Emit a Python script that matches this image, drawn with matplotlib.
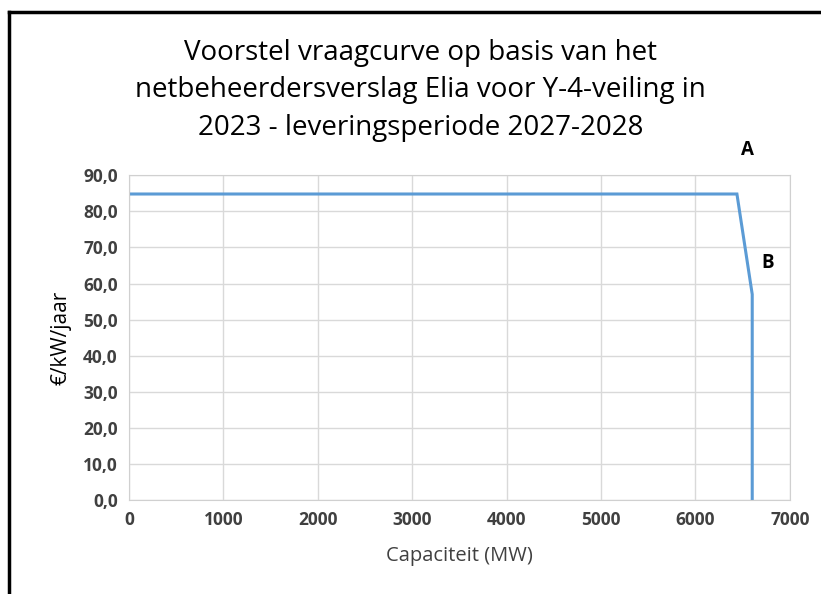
import matplotlib.pyplot as plt
from matplotlib.lines import Line2D
from matplotlib.ticker import FuncFormatter

plt.rcParams["font.family"] = ["Open Sans", "DejaVu Sans"]

# demand curve points (MW, EUR/kW/jaar)
capacity = [0, 6440, 6602, 6602]
price = [84.8, 84.8, 57.0, 0.0]

x_ticks = [0, 1000, 2000, 3000, 4000, 5000, 6000, 7000]
y_ticks = [0, 10, 20, 30, 40, 50, 60, 70, 80, 90]

labels = ["A", "B"]
label_x = [6554, 6766]
label_y = [97.0, 65.6]

TITLE = ("Voorstel vraagcurve op basis van het\n"
         "netbeheerdersverslag Elia voor Y-4-veiling in\n"
         "2023 - leveringsperiode 2027-2028")

fig = plt.figure(figsize=(8.21, 5.94), dpi=100)
ax = fig.add_axes([0.157, 0.158, 0.805, 0.547])

ax.plot(capacity, price, color="#5b9bd5", linewidth=2.2, solid_joinstyle="miter")

ax.set_xlim(x_ticks[0], x_ticks[-1])
ax.set_ylim(y_ticks[0], y_ticks[-1])
ax.set_xticks(x_ticks)
ax.set_yticks(y_ticks)
ax.yaxis.set_major_formatter(FuncFormatter(lambda v, _: f"{v:.1f}".replace(".", ",")))
ax.grid(True, color="#d9d9d9", linewidth=1)
ax.set_axisbelow(True)
for side in ax.spines.values():
    side.set_color("#d0d0d0")
ax.tick_params(length=0, labelsize=12.5, colors="#404040", pad=8)
for lab in ax.get_xticklabels() + ax.get_yticklabels():
    lab.set_fontweight("bold")

ax.set_xlabel("Capaciteit (MW)", fontsize=14.5, color="#404040", labelpad=12)
ax.set_ylabel("€/kW/jaar", fontsize=15, color="#000000", labelpad=8)

for text, xv, yv in zip(labels, label_x, label_y):
    ax.text(xv, yv, text, fontsize=13.5, fontweight="bold", ha="center", va="center",
            clip_on=False)

fig.text(0.512, 0.848, TITLE, ha="center", va="center", fontsize=20,
         color="#000000", linespacing=1.45)

# frame of the pasted chart (left and top edges only visible)
fig.add_artist(Line2D([0.011, 0.011], [0.0, 0.979], color="black", linewidth=2.5))
fig.add_artist(Line2D([0.011, 1.0], [0.979, 0.979], color="black", linewidth=2.5))

fig.savefig("out.png", dpi=100)
